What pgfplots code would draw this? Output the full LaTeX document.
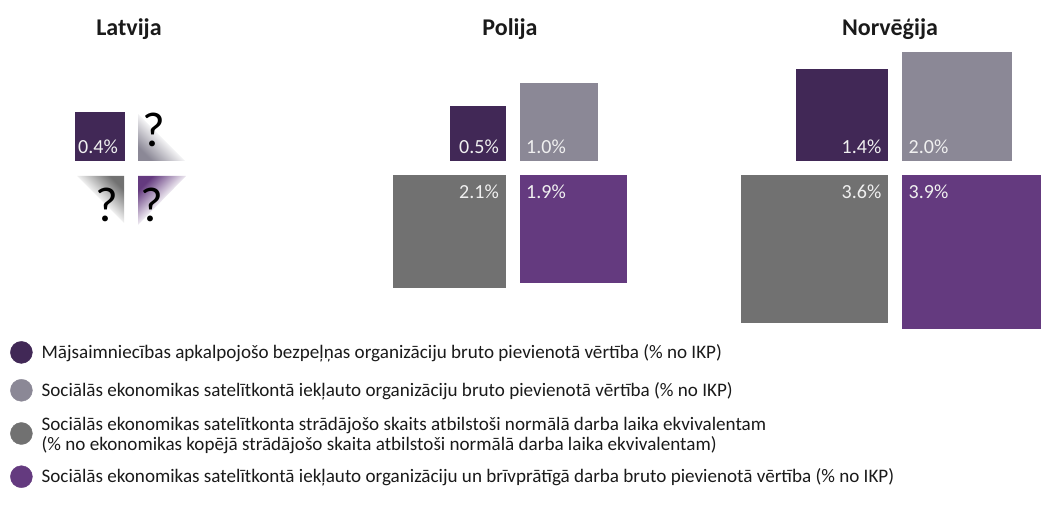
\documentclass[border=0pt]{standalone}
\usepackage{fontspec}
\setmainfont{Carlito}
\usepackage{pgfplots}
\pgfplotsset{compat=1.18}
\usepackage{pgfplotstable}
\definecolor{cA}{HTML}{412856}
\definecolor{cB}{HTML}{8B8896}
\definecolor{cC}{HTML}{717171}
\definecolor{cD}{HTML}{643A7F}
\definecolor{txt}{HTML}{1A1A1A}

% cx = x of the country's centre (px), v = value in %
\pgfplotstableread{
cx v
131.5 0.4
512.5 0.5
895 1.4
}\tA
\pgfplotstableread{
cx v
512.5 1.0
895 2.0
}\tB
\pgfplotstableread{
cx v
512.5 2.1
895 3.6
}\tC
\pgfplotstableread{
cx v
512.5 1.9
895 3.9
}\tD

\newcommand\sq[4]{%
\addplot[scatter, only marks, mark=square*, forget plot, color=#2,
  mark options={line width=0pt},
  scatter/use mapped color={draw=#2, fill=#2},
  visualization depends on={38.5*sqrt(\thisrow{v}) \as \half},
  scatter/@pre marker code/.append style={/tikz/mark size=\half pt}]
  table[x expr=\thisrow{cx}+(#3)*(7.5+38.5*sqrt(\thisrow{v})),
        y expr=337.5+(#4)*(7.5+38.5*sqrt(\thisrow{v}))] {#1};
}
\newcommand\lab[4]{%
\addplot[draw=none, mark=none, forget plot, point meta=explicit,
  nodes near coords={\pgfmathprintnumber[fixed,fixed zerofill,precision=1]{\pgfplotspointmeta}\%},
  nodes near coords style={anchor=#4, inner sep=0pt, text=white!94!black, font=\fontsize{20}{24}\selectfont}]
  table[x expr=\thisrow{cx}+(#2), y expr=#3, meta=v] {#1};
}
\newcommand\legc[1]{\addlegendimage{legend image code/.code={\fill[#1] (11pt,0) circle (11pt); \path (29pt,0);}}}

\begin{document}
\begin{tikzpicture}
\begin{axis}[name=ax, x=1pt, y=1pt, xmin=0, xmax=1041, ymin=0, ymax=506,
  hide axis, clip=false, scale only axis,
  /pgf/number format/assume math mode=true,
  legend style={at={(axis cs:10,165)}, anchor=north west, draw=none, fill=none,
    font=\fontsize{19.1}{19.3}\selectfont, text=txt, row sep=15.5pt, inner sep=0pt,
    nodes={inner sep=2pt}},
  legend cell align=left]
\legc{cA}
\addlegendentry{Mājsaimniecības apkalpojošo bezpeļņas organizāciju bruto pievienotā vērtība (\% no IKP)}
\legc{cB}
\addlegendentry{Sociālās ekonomikas satelītkontā iekļauto organizāciju bruto pievienotā vērtība (\% no IKP)}
\legc{cC}
\addlegendentry{\raisebox{4.5pt}[27.5pt][6pt]{\begin{tabular}{@{}l@{}}Sociālās ekonomikas satelītkonta strādājošo skaits atbilstoši normālā darba laika ekvivalentam\\(\% no ekonomikas kopējā strādājošo skaita atbilstoši normālā darba laika ekvivalentam)\end{tabular}}}
\legc{cD}
\addlegendentry{Sociālās ekonomikas satelītkontā iekļauto organizāciju un brīvprātīgā darba bruto pievienotā vērtība (\% no IKP)}

\sq{\tA}{cA}{-1}{1}
\sq{\tB}{cB}{1}{1}
\sq{\tC}{cC}{-1}{-1}
\sq{\tD}{cD}{1}{-1}

\lab{\tA}{-13.5}{352}{base east}
\lab{\tB}{13.5}{352}{base west}
\lab{\tC}{-13.5}{307}{base east}
\lab{\tD}{13.5}{307}{base west}

% missing values for Latvija
\addplot[draw=none, mark=none, forget plot, bottom color=cB, top color=white, middle color=cB!10!white, shading angle=-45]
  coordinates {(138,392) (138,345) (185,345) (138,392)};
\addplot[draw=none, mark=none, forget plot, bottom color=cC, top color=white, middle color=cC!10!white, shading angle=135]
  coordinates {(77,330) (124,330) (124,283) (77,330)};
\addplot[draw=none, mark=none, forget plot, bottom color=cD, top color=white, middle color=cD!10!white, shading angle=-135]
  coordinates {(138,330) (186,330) (138,281) (138,330)};
\node[anchor=base, font=\fontsize{49}{50}\selectfont] at (axis cs:154,359) {?};
\node[anchor=base, font=\fontsize{49}{50}\selectfont] at (axis cs:107,284) {?};
\node[anchor=base, font=\fontsize{49}{50}\selectfont] at (axis cs:152,284) {?};

\node[anchor=base, text=txt, font=\bfseries\fontsize{24}{28}\selectfont] at (axis cs:129,470) {Latvija};
\node[anchor=base, text=txt, font=\bfseries\fontsize{24}{28}\selectfont] at (axis cs:510,470) {Polija};
\node[anchor=base, text=txt, font=\bfseries\fontsize{24}{28}\selectfont] at (axis cs:890,470) {Norvēģija};
\end{axis}
\pgfresetboundingbox
\path (ax.south west) rectangle (ax.north east);
\end{tikzpicture}
\end{document}
